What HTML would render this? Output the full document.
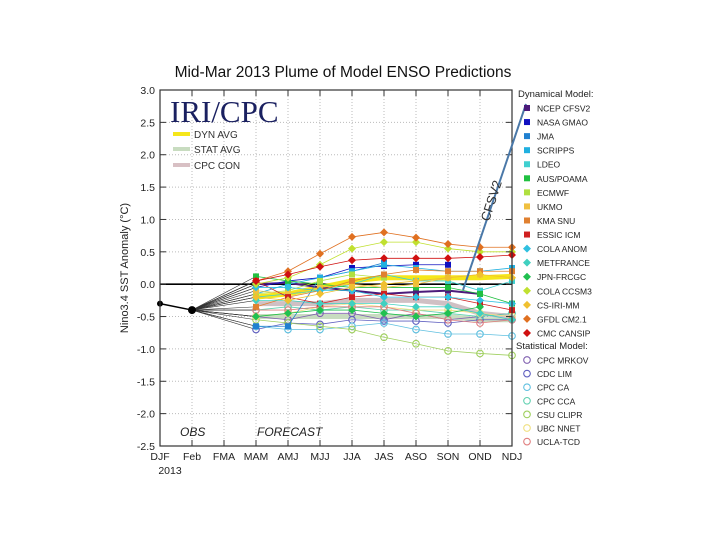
<!DOCTYPE html>
<html><head><meta charset="utf-8"><style>
body{margin:0;background:#fff;width:720px;height:540px;overflow:hidden}
svg{display:block;font-family:"Liberation Sans",sans-serif}
</style></head><body>
<svg id="chart" width="720" height="540">
<text x="343" y="77" text-anchor="middle" font-size="15.5" fill="#111">Mid-Mar 2013 Plume of Model ENSO Predictions</text>
<g id="grid"></g>
<g id="series"></g>
<g id="axes"></g>
<text x="170" y="122" font-family="Liberation Serif,serif" font-size="31" fill="#1a2060">IRI/CPC</text>
<g font-size="10" fill="#333">
<line x1="173" y1="134" x2="190" y2="134" stroke="#f5e61a" stroke-width="4"/><text x="194" y="138">DYN AVG</text>
<line x1="173" y1="149" x2="190" y2="149" stroke="#c8dcc0" stroke-width="4"/><text x="194" y="153">STAT AVG</text>
<line x1="173" y1="165" x2="190" y2="165" stroke="#d8c0c4" stroke-width="4"/><text x="194" y="169">CPC CON</text>
</g>
<line x1="463" y1="290" x2="526" y2="104" stroke="#4a78a8" stroke-width="2"/>
<text transform="translate(489,222) rotate(-72)" font-size="13" fill="#333">CFSV2</text>
<text x="180" y="436" font-size="12" font-style="italic" fill="#222">OBS</text>
<text x="257" y="436" font-size="12" font-style="italic" fill="#222">FORECAST</text>
<text transform="translate(128,268) rotate(-90)" text-anchor="middle" font-size="11" fill="#222">Nino3.4 SST Anomaly (°C)</text>
<g id="legend"></g>
</svg>
<script>
const categories=["DJF","JFM","FMA","MAM","AMJ","MJJ","JJA","JAS","ASO","SON","OND","NDJ"];
const xTickLabels=["DJF","Feb","FMA","MAM","AMJ","MJJ","JJA","JAS","ASO","SON","OND","NDJ"];
const yTicks=[3.0,2.5,2.0,1.5,1.0,0.5,0.0,-0.5,-1.0,-1.5,-2.0,-2.5];
const obsValues=[-0.3,-0.4];
const dynAvg=[-0.2,-0.15,-0.05,0.05,0.1,0.1,0.1,0.1,0.12];
const statAvg=[-0.5,-0.5,-0.5,-0.5,-0.5,-0.5,-0.5,-0.55,-0.55];
const cpcCon=[-0.3,-0.3,-0.3,-0.25,-0.25,-0.25,-0.3,-0.45,-0.5];
const dynNames=["NCEP CFSv2","NASA GMAO","JMA","SCRIPPS","LDEO","AUS/POAMA","ECMWF","UKMO","KMA SNU","ESSIC ICM","COLA ANOM","MetFRANCE","JPN-FRCGC","COLA CCSM3","CS-IRI-MM","GFDL CM2.1","CMC CANSIP"];
const dynColors=["#4b1a7a","#1010c0","#2080d0","#20b0e0","#40d0d0","#20c040","#b0e040","#f0c040","#e08030","#d02020","#30c0e0","#40d0c0","#20c050","#c0e030","#f0c030","#e07020","#d01010"];
const dynShapes=["sq","sq","sq","sq","sq","sq","sq","sq","sq","sq","di","di","di","di","di","di","di"];
const dynValues=[
[0.0,0.02,-0.05,-0.1,-0.15,-0.12,-0.1,-0.15,null],
[-0.05,0.05,0.1,0.25,0.28,0.3,0.3,null,null],
[-0.65,-0.65,0.1,0.2,0.33,null,null,null,null],
[-0.15,0.0,0.1,0.2,0.3,0.25,0.2,0.2,0.25],
[-0.2,-0.15,-0.1,0.0,0.15,0.05,0.05,-0.1,0.05],
[0.12,0.05,0.0,-0.05,-0.05,-0.05,-0.05,-0.15,-0.3],
[-0.15,-0.1,0.05,0.15,0.1,null,null,null,null],
[-0.1,-0.15,-0.05,0.0,-0.05,0.0,0.1,0.15,null],
[-0.35,-0.2,-0.1,0.05,0.15,0.22,0.2,0.2,0.2],
[0.05,-0.2,-0.3,-0.2,-0.15,-0.2,-0.2,-0.3,-0.4],
[-0.05,-0.05,-0.1,-0.1,-0.2,-0.2,-0.2,-0.25,-0.3],
[-0.25,-0.25,-0.3,-0.3,-0.3,-0.35,-0.35,-0.45,-0.55],
[-0.5,-0.45,-0.4,-0.4,-0.45,-0.5,-0.45,-0.35,null],
[0.0,0.1,0.3,0.55,0.65,0.65,0.55,0.5,0.5],
[-0.2,-0.25,-0.15,-0.05,0.0,0.05,0.1,0.15,0.1],
[0.05,0.2,0.47,0.73,0.8,0.72,0.62,0.57,0.57],
[0.05,0.15,0.27,0.37,0.4,0.4,0.4,0.42,0.45]];
const statNames=["CPC MRKOV","CDC LIM","CPC CA","CPC CCA","CSU CLIPR","UBC NNET","UCLA-TCD"];
const statColors=["#8060b0","#6060c0","#60c0e0","#60d0b0","#a0d060","#f0e080","#e08080"];
const statValues=[
[-0.5,-0.55,-0.45,-0.45,-0.55,-0.45,-0.55,-0.5,-0.45],
[-0.7,-0.6,-0.62,-0.55,-0.57,-0.57,-0.6,-0.55,-0.55],
[-0.65,-0.7,-0.7,-0.65,-0.6,-0.7,-0.77,-0.77,-0.8],
[-0.4,-0.35,-0.4,-0.35,-0.4,-0.4,-0.45,-0.5,-0.45],
[-0.55,-0.6,-0.65,-0.7,-0.82,-0.92,-1.03,-1.07,-1.1],
[-0.5,-0.45,-0.35,-0.3,-0.35,-0.4,-0.4,-0.45,-0.5],
[-0.4,-0.4,-0.35,-0.35,-0.35,-0.45,-0.55,-0.6,-0.55]];

const NS="http://www.w3.org/2000/svg";
const L=160,R=512,T=90,B=446,yMin=-2.5,yMax=3.0;
function xs(i){return L+i*(R-L)/(categories.length-1);}
function ys(v){return B-(v-yMin)/(yMax-yMin)*(B-T);}
function mk(tag,attrs,parent){const e=document.createElementNS(NS,tag);for(const k in attrs)e.setAttribute(k,attrs[k]);parent.appendChild(e);return e;}
const grid=document.getElementById('grid'),axes=document.getElementById('axes'),ser=document.getElementById('series'),leg=document.getElementById('legend');
categories.forEach((c,i)=>{
  const g=mk('line',{x1:xs(i),x2:xs(i),y1:T,y2:B,stroke:'#bbb','stroke-dasharray':'1,2'},grid);
  
  
  mk('line',{x1:xs(i),x2:xs(i),y1:B,y2:B-6,stroke:'#333'},axes);
  mk('line',{x1:xs(i),x2:xs(i),y1:T,y2:T+6,stroke:'#333'},axes);
  const lb=mk('text',{x:xs(i),y:460,'text-anchor':'middle','font-size':'10.5',fill:'#222'},axes);
  lb.textContent=xTickLabels[i];
  
  
});
const yr=mk('text',{x:170,y:474,'text-anchor':'middle','font-size':'10.5',fill:'#222'},axes);yr.textContent='2013';


yTicks.forEach(v=>{
  const g=mk('line',{x1:L,x2:R,y1:ys(v),y2:ys(v),stroke:'#bbb','stroke-dasharray':'1,2'},grid);
  
  
  mk('line',{x1:L,x2:L+6,y1:ys(v),y2:ys(v),stroke:'#333'},axes);
  mk('line',{x1:R,x2:R-6,y1:ys(v),y2:ys(v),stroke:'#333'},axes);
  const lb=mk('text',{x:155,y:ys(v)+4,'text-anchor':'end','font-size':'10.5',fill:'#222'},axes);
  lb.textContent=v.toFixed(1);
  
  
});
mk('rect',{x:L,y:T,width:R-L,height:B-T,fill:'none',stroke:'#333','stroke-width':1.2},axes);
const zl=mk('line',{x1:L,x2:R,y1:ys(0),y2:ys(0),stroke:'#000','stroke-width':1.6},ser);


function pathFor(vals,off){let d='';vals.forEach((v,i)=>{if(v===null)return;d+=(d?'L':'M')+xs(i+off)+','+ys(v);});return d;}
function fan(vals){mk('line',{x1:xs(1),y1:ys(obsValues[1]),x2:xs(3),y2:ys(vals[0]),stroke:'#333','stroke-width':0.6},ser);}
function marker(shape,x,y,col,parent){
  if(shape==='sq')return mk('rect',{x:x-3,y:y-3,width:6,height:6,fill:col},parent);
  if(shape==='di')return mk('path',{d:`M${x},${y-4}L${x+4},${y}L${x},${y+4}L${x-4},${y}Z`,fill:col},parent);
  return mk('circle',{cx:x,cy:y,r:3.3,fill:'none',stroke:col,'stroke-width':1.1},parent);
}
function avg(vals,col,name){const p=mk('path',{d:pathFor(vals,3),fill:'none',stroke:col,'stroke-width':5,'stroke-linejoin':'round'},ser);
  
  }
avg(statAvg,'#c8dcc0','stat-avg-line');
avg(cpcCon,'#d0c0c4','cpc-con-line');
avg(dynAvg,'#f5e61a','dyn-avg-line');
statValues.forEach((vals,k)=>{
  fan(vals);
  const g=mk('g',{},ser);
  
  
  mk('path',{d:pathFor(vals,3),fill:'none',stroke:statColors[k],'stroke-width':0.8},g);
  vals.forEach((v,i)=>{if(v!==null)marker('ci',xs(i+3),ys(v),statColors[k],g);});
});
dynValues.forEach((vals,k)=>{
  fan(vals);
  const g=mk('g',{},ser);
  
  
  mk('path',{d:pathFor(vals,3),fill:'none',stroke:dynColors[k],'stroke-width':k===0?2:0.8},g);
  vals.forEach((v,i)=>{if(v!==null)marker(dynShapes[k],xs(i+3),ys(v),dynColors[k],g);});
});
const ob=mk('g',{},ser);


mk('path',{d:pathFor(obsValues,0),stroke:'#000','stroke-width':1.5,fill:'none'},ob);
obsValues.forEach((v,i)=>mk('circle',{cx:xs(i),cy:ys(v),r:i?4:3,fill:'#000'},ob));
// legend
const h1=mk('text',{x:518,y:97,'font-size':'9.5',fill:'#222'},leg);h1.textContent='Dynamical Model:';


dynNames.forEach((n,k)=>{
  const y=108+k*14.06;
  const e=mk('g',{},leg);
  
  
  marker(dynShapes[k],527,y,dynColors[k],e);
  const t=mk('text',{x:537,y:y+3.5,'font-size':'8.5',fill:'#222'},e);t.textContent=n.toUpperCase();
});
const h2=mk('text',{x:516,y:349,'font-size':'9.5',fill:'#222'},leg);h2.textContent='Statistical Model:';


statNames.forEach((n,k)=>{
  const y=360+k*13.6;
  const e=mk('g',{},leg);
  
  
  marker('ci',527,y,statColors[k],e);
  const t=mk('text',{x:537,y:y+3.5,'font-size':'8.5',fill:'#222'},e);t.textContent=n;
});
</script>
</body></html>
